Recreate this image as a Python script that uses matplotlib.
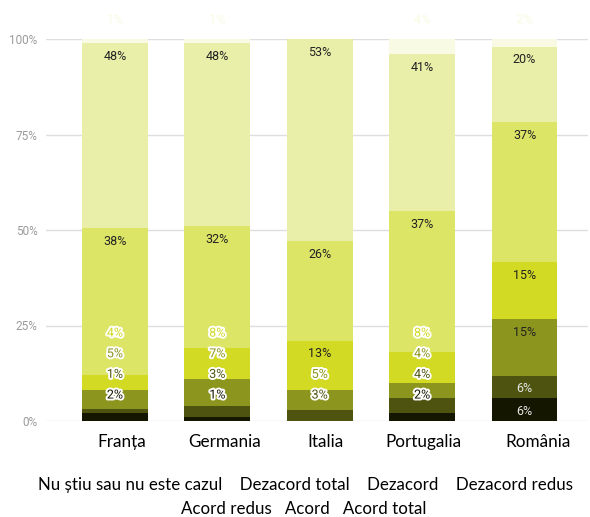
import matplotlib
matplotlib.use("Agg")
import matplotlib.pyplot as plt
import matplotlib.patheffects as pe
import numpy as np

# date (procente)
categorii = ["Franța", "Germania", "Italia", "Portugalia", "România"]
serii = ["Nu știu sau nu este cazul", "Dezacord total", "Dezacord", "Dezacord redus",
         "Acord redus", "Acord", "Acord total"]
nu_stiu = [2, 1, 0, 2, 6]
dezacord_total = [1, 3, 3, 4, 6]
dezacord = [5, 7, 5, 4, 15]
dezacord_redus = [4, 8, 13, 8, 15]
acord_redus = [38, 32, 26, 37, 37]
acord = [48, 48, 53, 41, 20]
acord_total = [1, 1, 0, 4, 2]

culori = ["#141600", "#4e5410", "#8c961e", "#d2da24", "#dde567", "#e9efa8", "#f8fae3"]
text_inchis = [True, True, False, False, False, False, False]

valori = np.array([nu_stiu, dezacord_total, dezacord, dezacord_redus,
                   acord_redus, acord, acord_total], dtype=float)
# grafic 100% stivuit
inaltimi = valori / valori.sum(axis=0) * 100

W, H = 590, 517
fig = plt.figure(figsize=(W / 100, H / 100), dpi=100)
ax = fig.add_axes([46 / W, 96 / H, (588 - 46) / W, 382 / H])
ax.set_xlim(-0.673, 4.62)
ax.set_ylim(0, 100)

x = np.arange(len(categorii))
baza = np.zeros(len(categorii))
for k in range(len(serii)):
    ax.bar(x, inaltimi[k], width=0.644, bottom=baza, color=culori[k], zorder=2)
    baza = baza + inaltimi[k]

# axa y
ax.set_yticks([0, 25, 50, 75, 100])
ax.set_yticklabels(["0%", "25%", "50%", "75%", "100%"], family="Roboto")
ax.tick_params(axis="y", length=0, pad=6, labelsize=8.5, labelcolor="#9a9a9a")
ax.set_xticks([])
ax.grid(axis="y", color="#dedede", lw=1, zorder=0)
for s in ax.spines.values():
    s.set_visible(False)

contur = [pe.withStroke(linewidth=2.8, foreground="white")]

# etichete de valori
for i in range(len(categorii)):
    sus = np.cumsum(inaltimi[:, i])
    jos = sus - inaltimi[:, i]
    prev = None
    for k in range(len(serii)):
        v = valori[k, i]
        if v == 0:
            continue
        if k == len(serii) - 1:
            p = sus[-1] + 5
        else:
            ideal = sus[k] - 3.5
            if prev is None:
                p = ideal if inaltimi[k, i] >= 4.5 else max(ideal, 6.8)
            else:
                p = max(ideal, prev + 5.4)
            prev = p
        inauntru = jos[k] <= p <= sus[k]
        if inauntru:
            col = "#e6e6e6" if text_inchis[k] else "#222222"
            efecte = None
        else:
            col = culori[k]
            efecte = contur
        ax.text(x[i], p, f"{int(v)}%", ha="center", va="center", fontsize=9,
                family="Roboto", color=col, path_effects=efecte, zorder=5,
                clip_on=False)

# denumirile categoriilor (rand separat sub grafic)
poz_categorii = [122, 224.5, 326, 423, 538]
for nume, px in zip(categorii, poz_categorii):
    fig.text(px / W, (H - 442) / H, nume, ha="center", va="center",
             fontsize=12.3, family="Lato", color="black")

# legenda doar text
fig.text(305 / W, (H - 485) / H, "    ".join(serii[:4]), ha="center", va="center",
         fontsize=12.2, family="Lato", color="black")
fig.text(304 / W, (H - 509) / H, "   ".join(serii[4:]), ha="center", va="center",
         fontsize=12.2, family="Lato", color="black")

fig.savefig("out.png", dpi=100)
